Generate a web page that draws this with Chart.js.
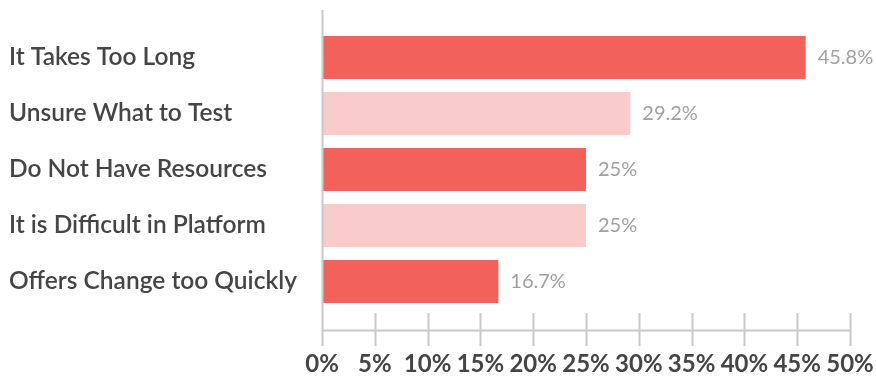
<!DOCTYPE html>
<html>
<head>
<meta charset="utf-8">
<script src="https://cdn.jsdelivr.net/npm/chart.js@4.4.1/dist/chart.umd.min.js"></script>
<style>
  html, body { margin: 0; padding: 0; background: #ffffff; }
  #wrap { width: 876px; height: 377px; position: relative; }
</style>
</head>
<body>
<div id="wrap"><canvas id="chart"></canvas></div>
<script>
// Survey: reasons for not testing offers (% of respondents)
const categories = [
  'It Takes Too Long',
  'Unsure What to Test',
  'Do Not Have Resources',
  'It is Difficult in Platform',
  'Offers Change too Quickly'
];
const shares = [45.8, 29.2, 25, 25, 16.7];
const tickValues = [0, 5, 10, 15, 20, 25, 30, 35, 40, 45, 50];

const DARK = '#f2615a';
const LIGHT = '#f9cbcb';
const AXIS = '#c9c9c9';

// Axis frame: vertical line at 0, baseline and crossing tick marks
const axisFrame = {
  id: 'axisFrame',
  afterDatasetsDraw(chart) {
    const { ctx, scales: { x } } = chart;
    const x0 = Math.round(x.getPixelForValue(0)) + 0.5;
    const baseY = 330.5;
    ctx.save();
    ctx.strokeStyle = AXIS;
    ctx.lineWidth = 2;
    ctx.beginPath();
    ctx.moveTo(x0, 10);
    ctx.lineTo(x0, 346);
    ctx.stroke();
    ctx.beginPath();
    ctx.moveTo(x0, baseY);
    ctx.lineTo(x.getPixelForValue(50), baseY);
    ctx.stroke();
    tickValues.forEach(v => {
      if (v === 0) return;
      const px = Math.round(x.getPixelForValue(v)) + 0.5;
      ctx.beginPath();
      ctx.moveTo(px, 313);
      ctx.lineTo(px, 346);
      ctx.stroke();
    });
    ctx.restore();
  }
};

// Value labels at the end of each bar
const valueLabels = {
  id: 'valueLabels',
  afterDatasetsDraw(chart) {
    const { ctx } = chart;
    const meta = chart.getDatasetMeta(0);
    ctx.save();
    ctx.font = '400 20px Lato, "Open Sans", sans-serif';
    ctx.fillStyle = '#a0a0a0';
    ctx.textAlign = 'left';
    ctx.textBaseline = 'middle';
    meta.data.forEach((bar, i) => {
      ctx.fillText(shares[i] + '%', bar.x + 12, bar.y);
    });
    ctx.restore();
  }
};

new Chart(document.getElementById('chart'), {
  type: 'bar',
  data: {
    labels: categories,
    datasets: [{
      data: shares,
      backgroundColor: shares.map((_, i) => i % 2 === 0 ? DARK : LIGHT),
      borderWidth: 0,
      categoryPercentage: 1,
      barPercentage: 0.77
    }]
  },
  options: {
    indexAxis: 'y',
    responsive: true,
    maintainAspectRatio: false,
    animation: false,
    layout: { padding: { top: 29.5, right: 26, left: 9, bottom: 0 } },
    plugins: { legend: { display: false }, tooltip: { enabled: false } },
    scales: {
      x: {
        min: 0,
        max: 50,
        afterBuildTicks(scale) { scale.ticks = tickValues.map(v => ({ value: v })); },
        afterFit(scale) {
          scale.height = 67.5;
          scale.paddingLeft = 0;
          scale.paddingRight = 0;
        },
        grid: { display: false, drawTicks: false },
        border: { display: false },
        ticks: {
          padding: 40,
          maxRotation: 0,
          autoSkip: false,
          color: '#454545',
          font: { family: 'Lato, "Open Sans", sans-serif', size: 24, weight: '700' },
          callback: v => v + '%'
        }
      },
      y: {
        afterFit(scale) {
          scale.width = 313;
          scale.paddingTop = 0;
          scale.paddingBottom = 0;
        },
        grid: { display: false, drawTicks: false },
        border: { display: false },
        ticks: {
          crossAlign: 'far',
          padding: 0,
          color: '#454545',
          font: { family: 'Lato, "Open Sans", sans-serif', size: 24.5, weight: '600' }
        }
      }
    }
  },
  plugins: [axisFrame, valueLabels]
});
</script>
</body>
</html>
